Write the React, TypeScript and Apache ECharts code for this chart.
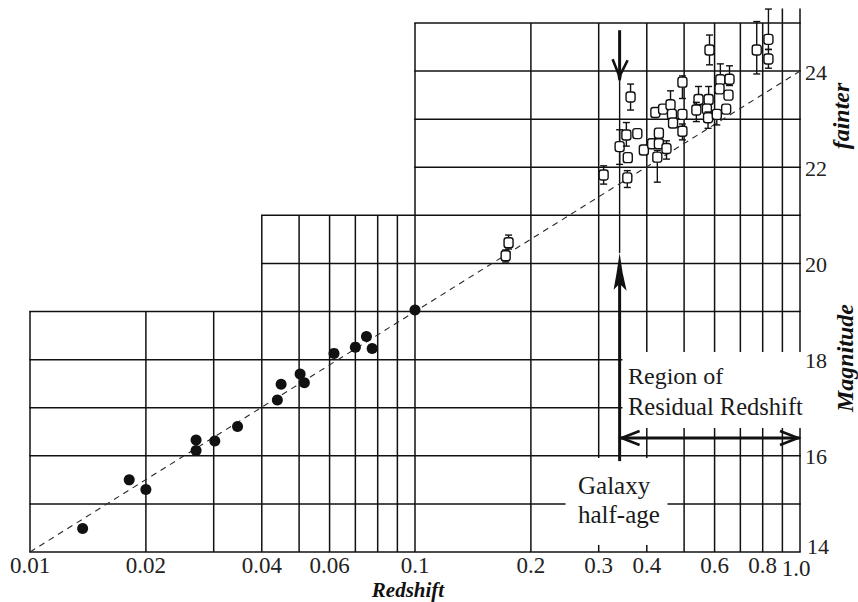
import React, { useEffect, useRef } from 'react';
import * as echarts from 'echarts';

// ---- axis ticks ----
const xTickValues = [0.01, 0.02, 0.04, 0.06, 0.1, 0.2, 0.3, 0.4, 0.6, 0.8, 1.0];
const xTickLabels = ['0.01', '0.02', '0.04', '0.06', '0.1', '0.2', '0.3', '0.4', '0.6', '0.8', '1.0'];
const yTickValues = [14, 16, 18, 20, 22, 24];
const yTickLabels = ['14', '16', '18', '20', '22', '24'];

// ---- stepped grid: vertical [z, mFrom, mTo], horizontal [zFrom, m, zTo] ----
const verticalGridLines = [
  [0.01, 14, 19], [0.02, 14, 19], [0.03, 14, 19],
  [0.04, 14, 21], [0.05, 14, 21], [0.06, 14, 21], [0.07, 14, 21], [0.08, 14, 21], [0.09, 14, 21],
  [0.1, 14, 25], [0.2, 14, 25], [0.3, 14, 25], [0.4, 14, 25], [0.5, 14, 25], [0.6, 14, 25],
  [0.7, 14, 25], [0.8, 14, 25], [0.9, 14, 25.3], [1.0, 14, 25.3],
];
const horizontalGridLines = [
  [0.01, 14, 1.0], [0.01, 15, 1.0], [0.01, 16, 1.0], [0.01, 17, 1.0], [0.01, 18, 1.0], [0.01, 19, 1.0],
  [0.04, 20, 1.0], [0.04, 21, 1.0],
  [0.1, 22, 1.0], [0.1, 23, 1.0], [0.1, 24, 1.0], [0.1, 25, 1.0],
];

// ---- data ----
// nearby galaxies (filled): [redshift, magnitude]
const nearbyGalaxies = [
  [0.0137, 14.49], [0.0181, 15.50], [0.020, 15.30], [0.027, 16.33], [0.027, 16.11],
  [0.0302, 16.31], [0.0346, 16.61], [0.0439, 17.16], [0.0449, 17.49], [0.0503, 17.70],
  [0.0516, 17.52], [0.0616, 18.13], [0.070, 18.26], [0.0748, 18.48], [0.0774, 18.23],
  [0.100, 19.03],
];
// distant galaxies (open): [redshift, magnitude, errLow, errHigh]
const distantGalaxies = [
  [0.175, 20.43, 20.30, 20.59], [0.172, 20.16, 20.03, 20.28],
  [0.309, 21.84, 21.65, 22.03], [0.356, 21.78, 21.58, 21.93],
  [0.363, 23.46, 23.19, 23.73], [0.340, 22.43, 22.06, 22.78],
  [0.354, 22.67, 22.44, 22.93], [0.357, 22.20, 22.20, 22.20],
  [0.378, 22.70, 22.70, 22.70], [0.393, 22.36, 22.36, 22.36],
  [0.413, 22.49, 22.49, 22.49], [0.430, 22.71, 22.71, 22.71],
  [0.430, 22.49, 22.49, 22.49], [0.426, 22.21, 21.69, 22.35],
  [0.450, 22.39, 22.17, 22.55], [0.421, 23.14, 23.14, 23.14],
  [0.441, 23.21, 23.21, 23.21], [0.461, 23.30, 23.10, 23.59],
  [0.465, 23.10, 23.10, 23.10], [0.468, 22.92, 22.92, 22.92],
  [0.495, 23.77, 23.43, 23.90], [0.495, 23.10, 23.10, 23.10],
  [0.495, 22.75, 22.57, 22.90], [0.545, 23.41, 23.30, 23.68],
  [0.579, 23.41, 23.30, 23.68], [0.538, 23.19, 22.95, 23.35],
  [0.573, 23.21, 23.21, 23.21], [0.577, 23.03, 22.81, 23.15],
  [0.608, 23.10, 22.88, 23.20], [0.643, 23.21, 23.21, 23.21],
  [0.621, 23.82, 23.70, 24.15], [0.656, 23.83, 23.70, 24.11],
  [0.618, 23.63, 23.63, 23.63], [0.652, 23.50, 23.50, 23.50],
  [0.582, 24.44, 24.13, 24.75], [0.772, 24.44, 23.94, 25.03],
  [0.828, 24.66, 24.45, 25.29], [0.828, 24.25, 24.06, 24.45],
];
// Hubble relation m = 5 log z + 24
const hubbleRelation = [[0.01, 14], [1.0, 24]];

// galaxy half-age redshift and annotation levels
const halfAgeRedshift = 0.34;
const downArrowLevels = [24.85, 23.81];
const upArrowLevels = [20.22, 15.89];
const residualArrowLevel = 16.37;

const SERIF = '"Liberation Serif", "Times New Roman", serif';
const INK = '#111111';

export default function App() {
  const ref = useRef<HTMLDivElement>(null);

  useEffect(() => {
    const chart = echarts.init(ref.current as HTMLDivElement, null, { renderer: 'svg' });

    const gridStyle = { stroke: '#111111', lineWidth: 1.5 };

    const annText = (text: string, x: number, y: number, size: number) => ({
      type: 'text', x, y, z: 100,
      style: { text, fill: '#1a1a1a', fontSize: size, fontFamily: SERIF, align: 'left', verticalAlign: 'middle' },
    });

    const option: any = {
      animation: false,
      backgroundColor: '#ffffff',
      grid: { left: 30, right: 58, top: 23, bottom: 50 },
      xAxis: { type: 'log', logBase: 10, min: 0.01, max: 1, show: false },
      yAxis: { type: 'value', min: 14, max: 25, show: false },
      series: [
        {
          type: 'custom', name: 'vgrid', z: 1, silent: true, clip: false,
          data: verticalGridLines,
          renderItem: (params: any, api: any) => {
            const a = api.coord([api.value(0), api.value(1)]);
            const b = api.coord([api.value(0), api.value(2)]);
            return { type: 'line', shape: { x1: a[0], y1: a[1], x2: b[0], y2: b[1] }, style: gridStyle };
          },
        },
        {
          type: 'custom', name: 'hgrid', z: 1, silent: true, clip: false,
          data: horizontalGridLines,
          renderItem: (params: any, api: any) => {
            const a = api.coord([api.value(0), api.value(1)]);
            const b = api.coord([api.value(2), api.value(1)]);
            return { type: 'line', shape: { x1: a[0] - 0.75, y1: a[1], x2: b[0] + 0.75, y2: b[1] }, style: gridStyle };
          },
        },
        {
          type: 'custom', name: 'annotations', z: 2, silent: true, clip: false,
          data: [[halfAgeRedshift, residualArrowLevel]],
          renderItem: (params: any, api: any) => {
            const P = (z: number, m: number) => api.coord([z, m]);
            // clear boxes behind annotation text
            const r0 = P(0.3458, 18.16);
            const r1 = P(1.0, 16.58);
            const g0 = P(0.246, 15.955);
            const g1 = P(0.4527, 14.145);
            const ax = P(halfAgeRedshift, 20)[0];
            const yDownTop = P(halfAgeRedshift, downArrowLevels[0])[1];
            const yDownTip = P(halfAgeRedshift, downArrowLevels[1])[1];
            const yUpTip = P(halfAgeRedshift, upArrowLevels[0])[1];
            const yUpBase = P(halfAgeRedshift, upArrowLevels[1])[1];
            const ya = P(1.0, residualArrowLevel)[1];
            const xr = P(1.0, residualArrowLevel)[0];
            const thick = { stroke: INK, lineWidth: 3, lineCap: 'butt' };
            const barb = { stroke: INK, lineWidth: 2.6, fill: 'none', lineJoin: 'miter' };
            return {
              type: 'group',
              children: [
                { type: 'rect', shape: { x: r0[0], y: r0[1], width: r1[0] - r0[0] + 2, height: r1[1] - r0[1] }, style: { fill: '#ffffff' } },
                { type: 'rect', shape: { x: g0[0], y: g0[1], width: g1[0] - g0[0], height: g1[1] - g0[1] }, style: { fill: '#ffffff' } },
                // downward arrow
                { type: 'line', shape: { x1: ax, y1: yDownTop, x2: ax, y2: yDownTip - 4 }, style: thick },
                { type: 'polyline', shape: { points: [[ax - 7, yDownTip - 21], [ax - 1, yDownTip - 6], [ax, yDownTip], [ax + 1, yDownTip - 6], [ax + 8, yDownTip - 20]] }, style: barb },
                // thin connecting line
                { type: 'line', shape: { x1: ax, y1: yDownTip, x2: ax, y2: yUpTip }, style: { stroke: INK, lineWidth: 1.4 } },
                // upward arrow
                { type: 'line', shape: { x1: ax, y1: yUpTip + 20, x2: ax, y2: yUpBase }, style: thick },
                { type: 'polygon', shape: { points: [[ax, yUpTip], [ax - 3, yUpTip + 20], [ax - 6, yUpTip + 37], [ax, yUpTip + 31], [ax + 7, yUpTip + 38], [ax + 3, yUpTip + 20]] }, style: { fill: INK } },
                // double arrow of residual redshift region
                { type: 'line', shape: { x1: ax, y1: ya, x2: xr, y2: ya }, style: thick },
                { type: 'polyline', shape: { points: [[ax + 20, ya - 7], [ax + 2, ya], [ax + 20, ya + 7]] }, style: barb },
                { type: 'polyline', shape: { points: [[xr - 20, ya - 7], [xr - 2, ya], [xr - 20, ya + 7]] }, style: barb },
              ],
            };
          },
        },
        {
          type: 'line', name: 'Hubble relation', z: 3, silent: true,
          data: hubbleRelation, showSymbol: false, symbol: 'none',
          lineStyle: { type: [6, 5], width: 1.1, color: '#2a2a2a' },
        },
        {
          type: 'scatter', name: 'nearby', z: 4, silent: true,
          data: nearbyGalaxies, symbol: 'circle', symbolSize: 11,
          itemStyle: { color: INK, opacity: 1 },
        },
        {
          type: 'custom', name: 'distant', z: 5, silent: true, clip: false,
          data: distantGalaxies,
          renderItem: (params: any, api: any) => {
            const z = api.value(0);
            const c = api.coord([z, api.value(1)]);
            const lo = api.coord([z, api.value(2)]);
            const hi = api.coord([z, api.value(3)]);
            const children: any[] = [];
            const es = { stroke: INK, lineWidth: 1.4 };
            if (lo[1] - hi[1] > 1) {
              children.push({ type: 'line', shape: { x1: c[0], y1: hi[1], x2: c[0], y2: lo[1] }, style: es });
              if (hi[1] < c[1] - 5) children.push({ type: 'line', shape: { x1: c[0] - 3.5, y1: hi[1], x2: c[0] + 3.5, y2: hi[1] }, style: es });
              if (lo[1] > c[1] + 5) children.push({ type: 'line', shape: { x1: c[0] - 3.5, y1: lo[1], x2: c[0] + 3.5, y2: lo[1] }, style: es });
            }
            children.push({ type: 'rect', shape: { x: c[0] - 4.5, y: c[1] - 5, width: 9, height: 10, r: 2.5 }, style: { fill: '#ffffff', stroke: INK, lineWidth: 1.4 } });
            return { type: 'group', children };
          },
        },
        {
          type: 'custom', name: 'xlabels', z: 6, silent: true, clip: false,
          data: xTickValues.map((v) => [v, 14]),
          renderItem: (params: any, api: any) => {
            const p = api.coord([api.value(0), api.value(1)]);
            const last = params.dataIndex === xTickValues.length - 1;
            return {
              type: 'text', x: p[0] - (last ? 4 : 0), y: p[1] + (last ? 16 : 13),
              style: { text: xTickLabels[params.dataIndex], fill: '#222', fontSize: 23, lineHeight: 17, fontFamily: SERIF, align: 'center', verticalAlign: 'middle' },
            };
          },
        },
        {
          type: 'custom', name: 'ylabels', z: 6, silent: true, clip: false,
          data: yTickValues.map((v) => [1.0, v]),
          renderItem: (params: any, api: any) => {
            const p = api.coord([api.value(0), api.value(1)]);
            const first = params.dataIndex === 0;
            return {
              type: 'text', x: p[0] + (first ? 7 : 5), y: p[1] + (first ? -6 : 1),
              style: { text: yTickLabels[params.dataIndex], fill: '#222', fontSize: 22, lineHeight: 17, fontFamily: SERIF, align: 'left', verticalAlign: 'middle' },
            };
          },
        },
      ],
      graphic: [
        { type: 'text', x: 408, y: 589.5, z: 100, style: { text: 'Redshift', fill: INK, fontSize: 21, fontFamily: SERIF, fontWeight: 'bold', fontStyle: 'italic', align: 'center', verticalAlign: 'middle' } },
        { type: 'text', x: 845, y: 358, z: 100, rotation: Math.PI / 2, style: { text: 'Magnitude', fill: INK, fontSize: 24, fontFamily: SERIF, fontWeight: 'bold', fontStyle: 'italic', align: 'center', verticalAlign: 'middle' } },
        { type: 'text', x: 841, y: 116, z: 100, rotation: Math.PI / 2, style: { text: 'fainter', fill: INK, fontSize: 24, fontFamily: SERIF, fontWeight: 'bold', fontStyle: 'italic', align: 'center', verticalAlign: 'middle' } },
        annText('Region of', 628, 376, 24),
        annText('Residual Redshift', 628, 406, 24.5),
        annText('Galaxy', 578, 485, 25),
        annText('half-age', 578, 514, 25),
      ],
    };

    chart.setOption(option);
    return () => chart.dispose();
  }, []);

  return (
    <div
      ref={ref}
      style={{ position: 'fixed', left: 0, top: 0, width: 858, height: 602, background: '#ffffff' }}
    />
  );
}
